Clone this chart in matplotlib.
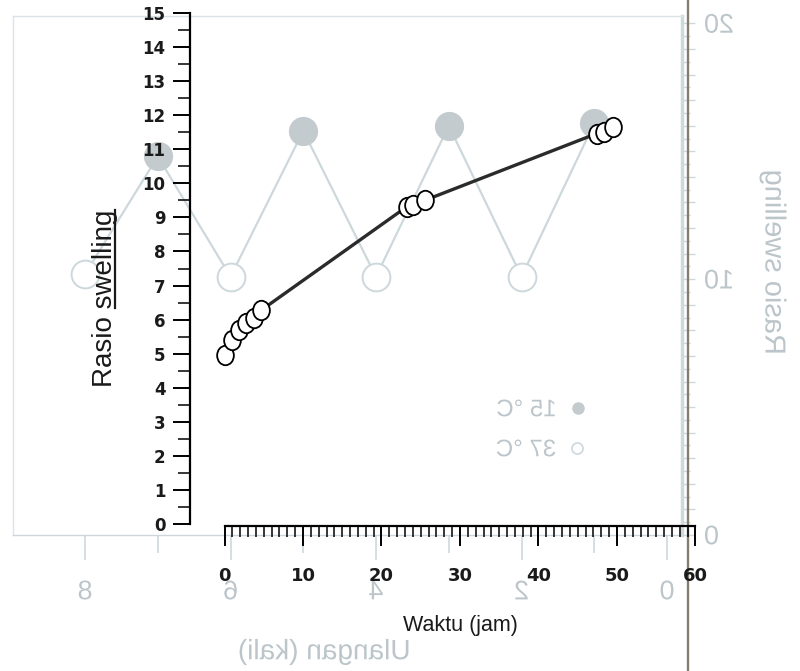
import matplotlib
matplotlib.use("Agg")
import matplotlib.pyplot as plt
from matplotlib import font_manager
from matplotlib.textpath import TextPath
from matplotlib.patches import PathPatch
from matplotlib.font_manager import FontProperties
from matplotlib.transforms import Affine2D, IdentityTransform, blended_transform_factory
from matplotlib.lines import Line2D
from matplotlib.path import Path
from matplotlib.ticker import MultipleLocator, FixedLocator

# Data utama: rasio swelling terhadap waktu
waktu_jam = [0, 0.9, 1.8, 2.7, 3.7, 4.7, 23.2, 24.0, 25.5, 47.4, 48.3, 49.5]
rasio_swelling = [4.96, 5.40, 5.69, 5.89, 6.04, 6.28, 9.31, 9.36, 9.50, 11.46, 11.52, 11.65]
y_ticks = list(range(0, 16))
x_ticks = [0, 10, 20, 30, 40, 50, 60]

# Grafik tembusan (halaman belakang, tercermin)
ulangan = [1, 2, 3, 4, 5, 6, 7, 8]
rasio_ulangan = [16.1, 10.1, 16.0, 10.1, 15.8, 10.1, 14.8, 10.2]
ghost_xticklabels = [0, 2, 4, 6, 8]
ghost_yticklabels = [0, 10, 20]
legend_labels = ["15 °C", "37 °C"]

W, H = 800, 671
GHOST_LINE = "#cdd8dc"
GHOST_TEXT = "#bcc6ca"
GHOST_FILL = "#c3cbce"

try:
    font_manager.findfont("Liberation Sans Narrow", fallback_to_default=False)
    XFONT, XSIZE = "Liberation Sans Narrow", 17.5
except ValueError:
    XFONT, XSIZE = "Liberation Sans", 15.5

fig = plt.figure(figsize=(W / 100, H / 100), dpi=100)


def px_box(x0, y_top, x1, y_bot):
    return [x0 / W, 1 - y_bot / H, (x1 - x0) / W, (y_bot - y_top) / H]


# ---------- grafik tembusan ----------
gax = fig.add_axes(px_box(13, 16, 682, 535), zorder=0)
gax.patch.set_visible(False)
gax.set_xlim(8.99, -0.206)
gax.set_ylim(0, 20.29)
for side, sp in gax.spines.items():
    sp.set_color("#dbe3e6")
    sp.set_linewidth(1.0)
gax.spines["right"].set_color("#cfd9dc")
gax.spines["right"].set_linewidth(2.5)
gax.spines["bottom"].set_color("#cdd6da")
gax.xaxis.set_major_locator(MultipleLocator(2))
gax.xaxis.set_minor_locator(MultipleLocator(1))
gax.yaxis.set_major_locator(MultipleLocator(1))
gax.yaxis.set_minor_locator(MultipleLocator(0.5))
gax.yaxis.tick_right()
gax.tick_params(axis="x", which="major", direction="out", length=18, width=1.2, color=GHOST_LINE)
gax.tick_params(axis="x", which="minor", direction="out", length=13, width=1.2, color=GHOST_LINE)
gax.tick_params(axis="y", which="major", direction="out", length=9, width=1.0, color=GHOST_LINE)
gax.tick_params(axis="y", which="minor", direction="out", length=6, width=1.0, color=GHOST_LINE)
gax.tick_params(labelbottom=False, labelleft=False, labelright=False, left=False)

gax.plot(ulangan, rasio_ulangan, color=GHOST_LINE, lw=1.6, zorder=1, clip_on=False)
gax.plot(ulangan[0::2], rasio_ulangan[0::2], ls="none", marker="o", ms=20,
         mfc=GHOST_FILL, mec=GHOST_FILL, zorder=2, clip_on=False)
gax.plot(ulangan[1::2], rasio_ulangan[1::2], ls="none", marker="o", ms=20,
         mfc="white", mec=GHOST_LINE, mew=1.4, zorder=2, clip_on=False)

GHOST_FONT = FontProperties(family="Liberation Sans")


def mirror_text(s, x, y, size, rotation=0, ha="center", color=GHOST_TEXT):
    tp = TextPath((0, 0), s, size=size, prop=GHOST_FONT)
    ext = tp.get_extents()
    tr = Affine2D().translate(-(ext.x0 + ext.x1) / 2, -(ext.y0 + ext.y1) / 2)
    tr = tr.rotate_deg(rotation).scale(-1, 1)
    if ha == "left":
        x += (ext.width if rotation == 0 else ext.height) / 2
    tr = tr.translate(x, y)
    fig.add_artist(PathPatch(tp, transform=tr, fc=color, ec="none", zorder=0.5))


for v in ghost_xticklabels:
    gx, _ = gax.transData.transform((v, 0))
    mirror_text(str(v), gx, H - 590, 27)
for v in ghost_yticklabels:
    _, gy = gax.transData.transform((0, v))
    mirror_text(str(v), 705, gy, 27, ha="left")
mirror_text("Rasio swelling", 773, H - 262, 29, rotation=90)
mirror_text("Ulangan (kali)", 324, H - 652, 28)

# legenda tembusan
fig.add_artist(Line2D([578], [H - 408], transform=IdentityTransform(), ls="none", marker="o",
                      ms=8, mfc=GHOST_FILL, mec=GHOST_FILL, zorder=0.5))
fig.add_artist(Line2D([577], [H - 448], transform=IdentityTransform(), ls="none", marker="o",
                      ms=8, mfc="white", mec=GHOST_LINE, mew=1.2, zorder=0.5))
mirror_text(legend_labels[0], 526, H - 408, 24)
mirror_text(legend_labels[1], 526, H - 448, 24)

# garis lipatan halaman
fig.add_artist(Line2D([688, 688], [0, H], transform=IdentityTransform(),
                      color="#857d70", lw=1.7, zorder=1))

# ---------- grafik utama ----------
X0_PX, PX_PER_H = 224.5, 7.85
ax = fig.add_axes(px_box(190, 13, 703.4, 524), zorder=2)
ax.patch.set_visible(False)
ax.set_xlim((190 - X0_PX) / PX_PER_H, (703.4 - X0_PX) / PX_PER_H)
ax.set_ylim(0, 15)

ax.spines["top"].set_visible(False)
ax.spines["right"].set_visible(False)
ax.spines["left"].set_bounds(0, 15)
ax.spines["left"].set_linewidth(1.6)
ax.spines["bottom"].set_bounds(0, 60)
ax.spines["bottom"].set_position(("outward", 1.5))
ax.spines["bottom"].set_linewidth(1.6)

ax.set_xticks(x_ticks)
ax.set_xticklabels([str(t) for t in x_ticks])
ax.xaxis.set_minor_locator(FixedLocator(range(x_ticks[0], x_ticks[-1] + 1)))
ax.set_yticks(y_ticks)
ax.set_yticklabels([str(t) for t in y_ticks])
ax.yaxis.set_minor_locator(MultipleLocator(0.5))

ax.tick_params(axis="x", which="major", direction="out", length=14.5, width=1.4, pad=15)
ax.tick_params(axis="x", which="minor", direction="out", length=8, width=1.1)
ax.tick_params(axis="y", which="major", direction="out", length=12.2, width=1.4, pad=5.5)
ax.tick_params(axis="y", which="minor", direction="out", length=8.6, width=1.1)
for lab in ax.get_xticklabels():
    lab.set_fontsize(13)
    lab.set_fontweight("bold")
    lab.set_color("#1a1a1a")
for lab in ax.get_yticklabels():
    lab.set_fontsize(12)
    lab.set_fontweight("bold")
    lab.set_color("#1a1a1a")

ellipse = Path.unit_circle().transformed(Affine2D().scale(0.86, 1.0))
ax.plot(waktu_jam, rasio_swelling, color="#2b2b2b", lw=2.4, zorder=3,
        solid_capstyle="round")
ax.plot(waktu_jam, rasio_swelling, ls="none", marker=ellipse, ms=14, mfc="white",
        mec="black", mew=1.3, zorder=4, clip_on=False)

# label sumbu x
ax.text(30, 1 - 626 / H, "Waktu (jam)", transform=blended_transform_factory(ax.transData, fig.transFigure),
        ha="center", va="center", fontsize=XSIZE, family=XFONT, color="#1a1a1a")

# label sumbu y dengan garis bawah pada "swelling"
renderer = fig.canvas.get_renderer()
ylab_font = dict(fontsize=20, family="Liberation Sans", color="#1a1a1a")
base_x, start_y = 112, H - 387
ylab = fig.text(base_x / W, start_y / H, "Rasio swelling", rotation=90,
                rotation_mode="anchor", ha="left", va="baseline", **ylab_font)
tmp_full = fig.text(0, 0, "Rasio swelling", **ylab_font)
tmp_word = fig.text(0, 0, "swelling", **ylab_font)
w_full = tmp_full.get_window_extent(renderer).width
w_word = tmp_word.get_window_extent(renderer).width
tmp_full.remove()
tmp_word.remove()
fig.add_artist(Line2D([base_x + 2.5, base_x + 2.5],
                      [start_y + w_full - w_word, start_y + w_full],
                      transform=IdentityTransform(), color="#1a1a1a", lw=1.6))

fig.savefig("out.png", dpi=100)
